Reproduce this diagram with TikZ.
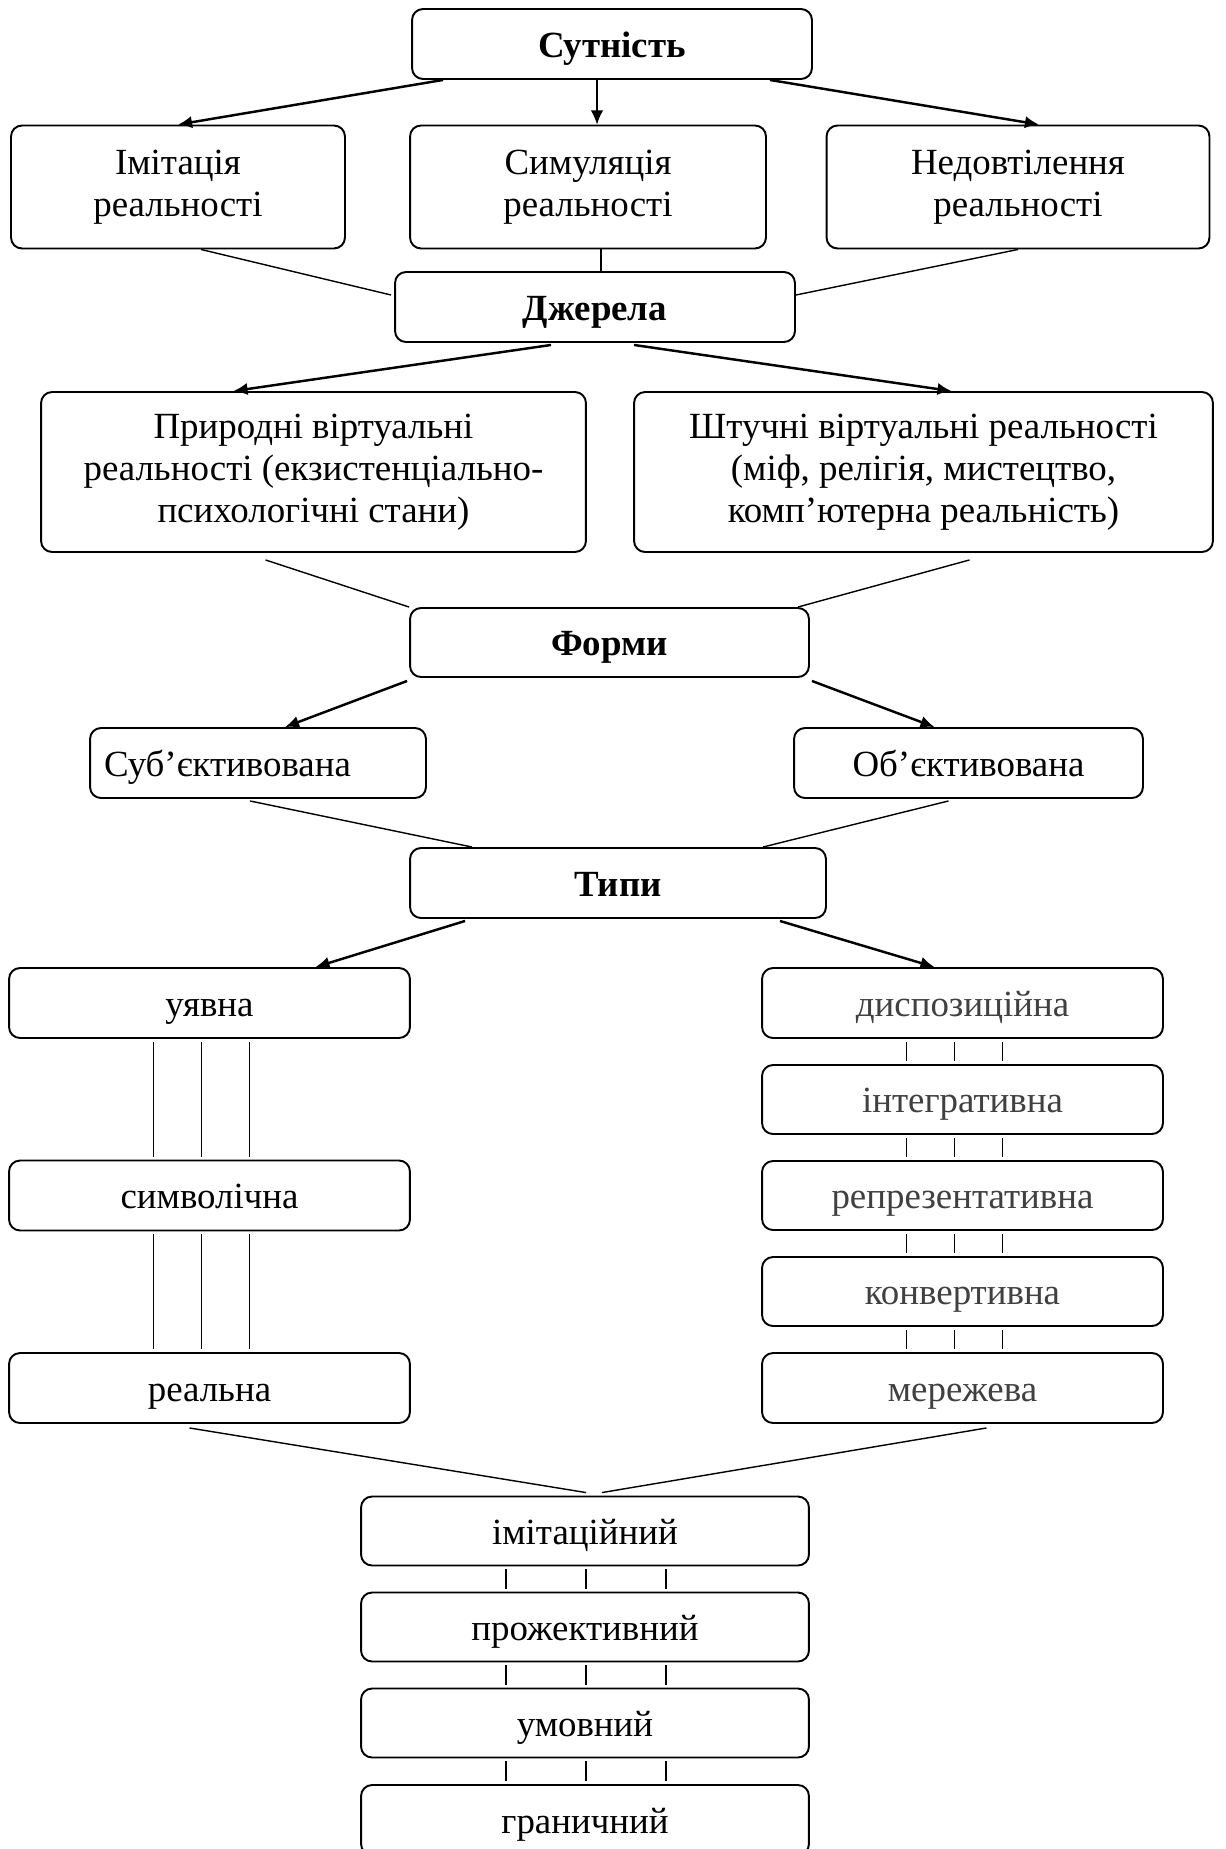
\documentclass[tikz,border=0pt]{standalone}
\usepackage{fontspec}
\setmainfont{Liberation Serif}
\usetikzlibrary{calc}
\usetikzlibrary{arrows.meta}
\tikzset{>={Latex[length=8pt,width=7pt]}}
\newcommand{\boxfont}{\fontsize{21}{24}\selectfont}
\tikzstyle{rbox}=[draw=black,line width=1.1pt,rounded corners=0.22cm,align=center,inner sep=2pt,font=\boxfont]
\tikzstyle{sbox}=[rbox,text height=19pt,text depth=4pt]
\tikzstyle{hbox}=[sbox,font=\boxfont\bfseries]
\tikzstyle{gbox}=[sbox,text=black!75]
\tikzstyle{taro}=[->,line width=1.4pt]
\tikzstyle{thinaro}=[->,line width=0.8pt]
\tikzstyle{link}=[line width=0.8pt]

\begin{document}
\begin{tikzpicture}[x=0.02cm,y=-0.02cm]
	\useasboundingbox (0,0) rectangle (1225,1849);
	
	% Essence
	\node[hbox,minimum width=8cm,minimum height=1.4cm] (sut) at (612,44) {Сутність};
	\node[rbox,minimum width=6.68cm,minimum height=2.46cm] (imit) at (178,187) {Імітація\\реальності};
	\node[rbox,minimum width=7.12cm,minimum height=2.46cm] (sim) at (588,187) {Симуляція\\реальності};
	\node[rbox,minimum width=7.66cm,minimum height=2.46cm] (nedov) at (1018,187) {Недовтілення\\реальності};
	\coordinate (simtop) at ($(sim.north)+(9,0)$);
	\draw[taro] ($(sut.south west)+(32,0)$) -- (imit.north);
	\draw[thinaro] (sut.south -| simtop) -- (simtop);
	\draw[taro] ($(sut.south east)+(-43,0)$) -- ($(nedov.north)+(21,0)$);
	
	% Sources
	\node[hbox,minimum width=8cm,minimum height=1.4cm] (dzh) at (595,307) {Джерела};
	\coordinate (simbot) at ($(sim.south)+(13,0)$);
	\draw[link] ($(imit.south)+(23,0)$) -- ($(dzh.west)+(-3,-12)$);
	\draw[link] (simbot) -- (simbot |- dzh.north);
	\draw[link] (nedov.south) -- ($(dzh.east)+(0,-12)$);
	\node[rbox,minimum width=10.9cm,minimum height=3.2cm] (pryr) at (313.5,472) {Природні віртуальні\\реальності (екзистенціально-\\психологічні стани)};
	\node[rbox,minimum width=11.58cm,minimum height=3.2cm] (shtuch) at (923.5,472) {Штучні віртуальні реальності\\(міф, релігія, мистецтво,\\комп’ютерна реальність)};
	\draw[taro] ($(dzh.south)+(-44,2)$) -- ($(pryr.north)+(-80,0)$);
	\draw[taro] ($(dzh.south)+(39,2)$) -- ($(shtuch.north)+(28,0)$);
	
	% Forms
	\node[hbox,minimum width=7.98cm,minimum height=1.38cm] (form) at (609.5,642.5) {Форми};
	\draw[link] ($(pryr.south)+(-48,7)$) -- (form.north west);
	\draw[link] ($(shtuch.south)+(46,7)$) -- ($(form.north east)+(-12,0)$);
	\node[sbox,minimum width=6.72cm,minimum height=1.4cm,text width=6.16cm,align=left] (sub) at (258,763) {Суб’єктивована};
	\node[sbox,minimum width=6.98cm,minimum height=1.4cm] (obj) at (968.5,763) {Об’єктивована};
	\draw[taro] ($(form.south west)+(-2,3)$) -- ($(sub.north)+(27,0)$);
	\draw[taro] ($(form.south east)+(2,3)$) -- ($(obj.north)+(-34,0)$);
	
	% Types
	\node[hbox,minimum width=8.32cm,minimum height=1.4cm] (typy) at (618,883) {Типи};
	\draw[link] ($(sub.south)+(-8,2)$) -- ($(typy.north west)+(63,0)$);
	\draw[link] ($(obj.south)+(-20,2)$) -- ($(typy.north east)+(-64,0)$);
	\node[sbox,minimum width=8.02cm,minimum height=1.4cm] (uyav) at (209.5,1003) {уявна};
	\node[sbox,minimum width=8.02cm,minimum height=1.4cm] (symv) at (209.5,1195.5) {символічна};
	\node[sbox,minimum width=8.02cm,minimum height=1.4cm] (real) at (209.5,1388) {реальна};
	\node[gbox,minimum width=8.02cm,minimum height=1.4cm] (disp) at (962.5,1003) {диспозиційна};
	\node[gbox,minimum width=8.02cm,minimum height=1.38cm] (integ) at (962.5,1099.5) {інтегративна};
	\node[gbox,minimum width=8.02cm,minimum height=1.38cm] (repr) at (962.5,1195.5) {репрезентативна};
	\node[gbox,minimum width=8.02cm,minimum height=1.38cm] (konv) at (962.5,1291.5) {конвертивна};
	\node[gbox,minimum width=8.02cm,minimum height=1.4cm] (merezh) at (962.5,1388) {мережева};
	\draw[taro] ($(typy.south west)+(56,2)$) -- ($(uyav.north)+(106,0)$);
	\draw[taro] ($(typy.south east)+(-47,2)$) -- ($(disp.north)+(-28,0)$);
	\foreach \a/\b in {uyav/symv,symv/real}
		\foreach \dx in {-56,-8,40}
			\draw[link] ($(\a.south)+(\dx,3)$) -- ($(\b.north)+(\dx,-3)$);
	\foreach \a/\b in {disp/integ,integ/repr,repr/konv,konv/merezh}
		\foreach \dx in {-56,-8,40}
			\draw[link] ($(\a.south)+(\dx,3)$) -- ($(\b.north)+(\dx,-3)$);
	
	% Modes
	\node[sbox,minimum width=8.96cm,minimum height=1.38cm] (imits) at (585,1531) {імітаційний};
	\node[sbox,minimum width=8.96cm,minimum height=1.38cm] (proj) at (585,1627) {прожективний};
	\node[sbox,minimum width=8.96cm,minimum height=1.38cm] (umov) at (585,1723) {умовний};
	\node[sbox,minimum width=8.96cm,minimum height=1.4cm] (gran) at (585,1820) {граничний};
	\draw[link] ($(real.south)+(-20,4)$) -- ($(imits.north)+(1,-3)$);
	\draw[link] ($(merezh.south)+(24,4)$) -- ($(imits.north)+(17,-3)$);
	\foreach \a/\b in {imits/proj,proj/umov,umov/gran}
		\foreach \dx in {-79,1,81}
			\draw[link] ($(\a.south)+(\dx,3)$) -- ($(\b.north)+(\dx,-3)$);
	
\end{tikzpicture}
\end{document}
